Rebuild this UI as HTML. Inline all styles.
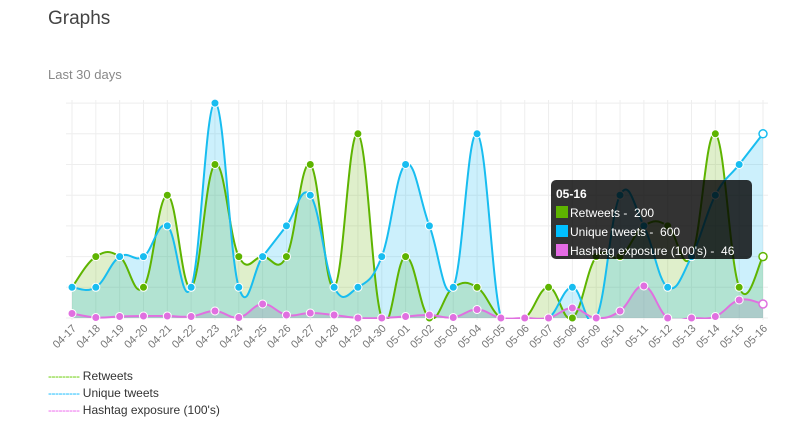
<!DOCTYPE html>
<html><head><meta charset="utf-8"><style>
body{margin:0;background:#fff;font-family:"Liberation Sans",sans-serif;}
#wrap{position:relative;width:811px;height:432px;overflow:hidden;}
.t{position:absolute;left:48px;top:8px;font-size:19px;color:#444;}
.s{position:absolute;left:48px;top:67px;font-size:13px;color:#888;}
.lg{position:absolute;left:48px;font-size:12px;color:#333;white-space:nowrap;}
.lg span{letter-spacing:-0.5px;}
#tt{position:absolute;left:551px;top:180px;width:201px;height:79px;background:rgba(0,0,0,0.8);border-radius:5px;color:#fff;font-size:12px;box-sizing:border-box;padding:5px 5px;white-space:nowrap;}
#tt div{height:19px;line-height:19px;}
#tt i{display:inline-block;width:12px;height:12px;vertical-align:-1px;margin-right:2px;}
</style></head><body><div id="wrap">
<div class="t">Graphs</div>
<div class="s">Last 30 days</div>
<svg id="g" width="811" height="432" style="position:absolute;left:0;top:0"></svg>
<div id="tt"><div><b>05-16</b></div><div><i style="background:#5eb400"></i>Retweets -&nbsp; 200</div><div><i style="background:#00bfff"></i>Unique tweets -&nbsp; 600</div><div><i style="background:#e46be4"></i>Hashtag exposure (100's) -&nbsp; 46</div></div>
<div class="lg" style="top:369px"><span style="color:#6c0">---------</span> Retweets</div>
<div class="lg" style="top:386px"><span style="color:#1bf">---------</span> Unique tweets</div>
<div class="lg" style="top:403px"><span style="color:#e6e">---------</span> Hashtag exposure (100's)</div>
</div>
<script>
var labels=["04-17","04-18","04-19","04-20","04-21","04-22","04-23","04-24","04-25","04-26","04-27","04-28","04-29","04-30","05-01","05-02","05-03","05-04","05-05","05-06","05-07","05-08","05-09","05-10","05-11","05-12","05-13","05-14","05-15","05-16"];
var B=[1,1,2,2,3,1,7,1,2,3,4,1,1,2,5,3,1,6,0,0,0,1,0,4,3,1,2,4,5,6];
var G=[1,2,2,1,4,1,5,2,2,2,5,1,6,0,2,0,1,1,0,0,1,0,2,2,3,3,2,6,1,2];
var P=[4.5,0.5,1.5,2,2,1.5,7,0.5,14,3,5,3,0,0,1.5,3,0.5,8.5,0,0,0,10,0,7,32,0,0,1.5,18,14];
var x0=72,dx=(763-72)/29,base=318,u=30.7;
var svg='<defs><clipPath id="c"><rect x="0" y="0" width="811" height="'+(base+1)+'"/></clipPath></defs>';
for(var i=0;i<30;i++){var x=x0+i*dx;svg+='<line x1="'+x+'" y1="100" x2="'+x+'" y2="320" stroke="#eee"/>';}
for(var k=0;k<=7;k++){var y=base-k*u;svg+='<line x1="66" y1="'+y+'" x2="768" y2="'+y+'" stroke="#eee"/>';}
function pts(a,px){return a.map(function(v,i){return [x0+i*dx,px?base-v:base-v*u];});}
function path(p){var d='M'+p[0][0]+','+p[0][1];for(var i=0;i<p.length-1;i++){var p0=p[i-1]||p[i],p1=p[i],p2=p[i+1],p3=p[i+2]||p2;var t=0.2;
d+=' C'+(p1[0]+(p2[0]-p0[0])*t)+','+(p1[1]+(p2[1]-p0[1])*t)+' '+(p2[0]-(p3[0]-p1[0])*t)+','+(p2[1]-(p3[1]-p1[1])*t)+' '+p2[0]+','+p2[1];}return d;}
var S=[[pts(G),'#5eb400','rgba(110,180,20,0.22)'],[pts(B),'#18bdf0','rgba(0,180,240,0.2)'],[pts(P,1),'#e070e0','rgba(160,160,190,0.35)']];
svg+='<g clip-path="url(#c)">';
S.forEach(function(s){var d=path(s[0]);svg+='<path d="'+d+' L'+s[0][29][0]+','+base+' L'+x0+','+base+' Z" fill="'+s[2]+'"/>';});
S.forEach(function(s){svg+='<path d="'+path(s[0])+'" fill="none" stroke="'+s[1]+'" stroke-width="2"/>';});
svg+='</g>';
S.forEach(function(s){s[0].forEach(function(p,i){svg+=i==29?'<circle cx="'+p[0]+'" cy="'+p[1]+'" r="4" fill="#fff" stroke="'+s[1]+'" stroke-width="1.5"/>':'<circle cx="'+p[0]+'" cy="'+p[1]+'" r="4" fill="'+s[1]+'" stroke="#fff" stroke-width="1"/>';});});
labels.forEach(function(l,i){var x=x0+i*dx+5,y=329;svg+='<text x="'+x+'" y="'+y+'" transform="rotate(-45 '+x+' '+y+')" text-anchor="end" font-size="11" fill="#777" font-family="Liberation Sans, sans-serif">'+l+'</text>';});
document.getElementById('g').innerHTML=svg;
</script></body></html>
